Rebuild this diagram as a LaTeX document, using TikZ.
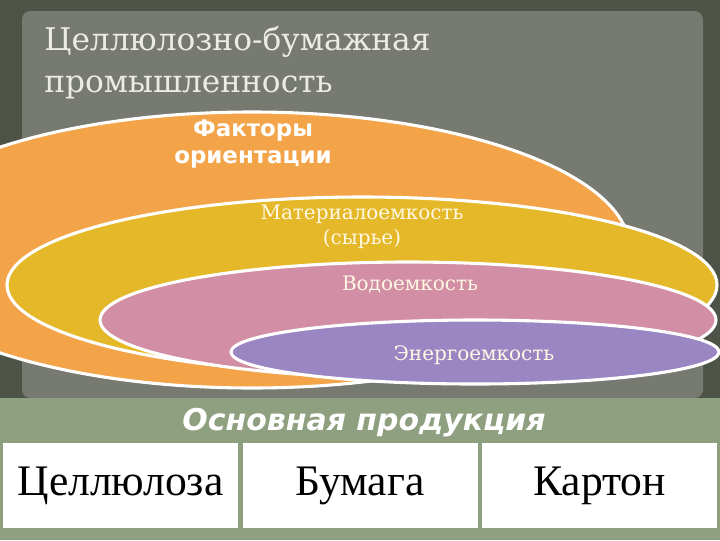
\documentclass[tikz,border=0pt]{standalone}
\usepackage{fontspec}
\setmainfont{Liberation Serif}
\newfontfamily\titleFont{DejaVu Serif}
\newfontfamily\factorFont{DejaVu Sans}
\usetikzlibrary{positioning}
\definecolor{frameGray}{RGB}{78,83,72}
\definecolor{paperGray}{RGB}{118,122,112}
\definecolor{bandGreen}{RGB}{143,160,128}
\definecolor{orangeFill}{RGB}{243,163,72}
\definecolor{yellowFill}{RGB}{228,184,40}
\definecolor{pinkFill}{RGB}{210,142,164}
\definecolor{purpleFill}{RGB}{155,134,196}
\definecolor{titleWhite}{RGB}{236,236,226}
\definecolor{labelCream}{RGB}{255,248,228}
\newcommand{\pxUnit}{0.025cm}
\newcommand{\productNames}{0/Целлюлоза, 1/Бумага, 2/Картон}
\newcommand{\cellLeft}{3}
\newcommand{\cellWidth}{235}
\newcommand{\cellGap}{4.5}
\newcommand{\cellTop}{443}
\newcommand{\cellHeight}{85}
% ellipses: name/colour/centre x/centre y/x radius/y radius
\newcommand{\factorEllipses}{orange/orangeFill/252/250/378/138, material/yellowFill/362/285/355/88, water/pinkFill/408/320/308/58, energy/purpleFill/475/352/244/32}

\begin{document}
\begin{tikzpicture}[x=\pxUnit, y=-\pxUnit,
    ring/.style={draw=white, line width=2.2pt},
    ringLabel/.style={text=labelCream, inner sep=0pt, align=center, font=\titleFont\fontsize{14.2pt}{17.7pt}\selectfont},
    productCell/.style={fill=white, inner sep=0pt, minimum width=\cellWidth*\pxUnit, minimum height=\cellHeight*\pxUnit, font=\fontsize{31pt}{34pt}\selectfont}]
	
	\useasboundingbox (0,0) rectangle (720,540);
	\clip (0,0) rectangle (720,540);
	
	% background
	\fill[frameGray] (0,0) rectangle (720,398);
	\fill[paperGray, rounded corners=6pt] (22,11) rectangle (703,398);
	\fill[bandGreen] (0,398) rectangle (720,540);
	
	\node[anchor=north west, inner sep=0pt, align=left, text=titleWhite, font=\titleFont\fontsize{22.2pt}{30pt}\selectfont] (title) at (44,26) {Целлюлозно-бумажная\\промышленность};
	
	\foreach \ringName/\ringColor/\cx/\cy/\rx/\ry in \factorEllipses
	{
		\draw[ring, fill=\ringColor] (\cx,\cy) ellipse [x radius=\rx, y radius=\ry];
	}
	
	\node[anchor=north, inner sep=0pt, align=center, text=white, font=\factorFont\bfseries\fontsize{16.3pt}{18.6pt}\selectfont] (factors) at (253,120) {Факторы\\ориентации};
	\node[ringLabel, anchor=north] (material) at (362,205) {Материалоемкость\\(сырье)};
	\node[ringLabel, anchor=base] (water) at (410,290) {Водоемкость};
	\node[ringLabel, anchor=base] (energy) at (474,360) {Энергоемкость};
	
	\node[anchor=base, inner sep=0pt, text=white, font=\factorFont\bfseries\itshape\fontsize{21.3pt}{24pt}\selectfont] (products) at (364,430) {Основная продукция};
	
	\foreach \cellNumber/\name in \productNames
	{
		\node[productCell] (cell\cellNumber) at ({\cellLeft + \cellNumber*(\cellWidth + \cellGap) + \cellWidth/2}, {\cellTop + \cellHeight/2}) {\name};
	}
\end{tikzpicture}
\end{document}
